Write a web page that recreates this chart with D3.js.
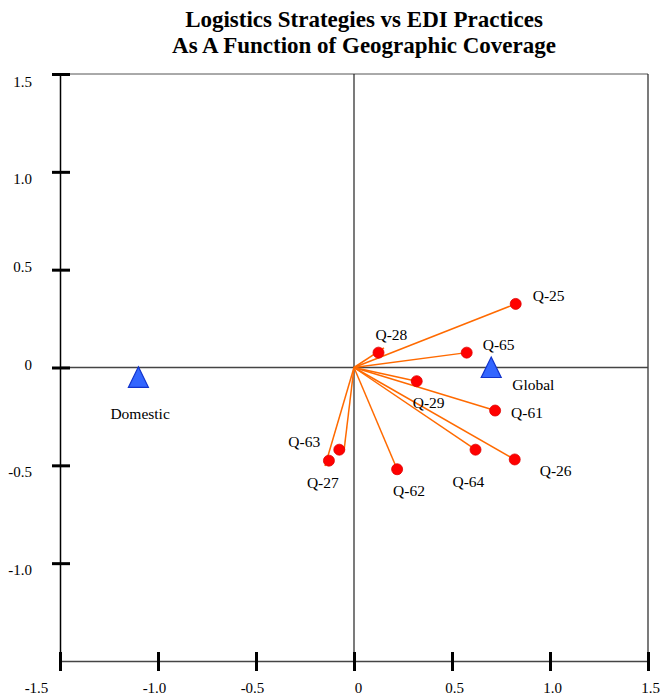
<!DOCTYPE html>
<html>
<head>
<meta charset="utf-8">
<script src="https://cdn.jsdelivr.net/npm/d3@7"></script>
<style>
  body { margin: 0; background: #fff; }
  svg { display: block; }
  text { font-family: "Liberation Serif", "Times New Roman", serif; }
</style>
</head>
<body>
<div id="chart"></div>
<script>
// Correspondence-analysis style map: practice vectors and group positions
const titleLines = ["Logistics Strategies vs EDI Practices", "As A Function of Geographic Coverage"];

const questionNames = ["Q-25", "Q-65", "Q-28", "Q-29", "Q-61", "Q-26", "Q-64", "Q-62", "Q-63", "Q-27"];
// point coordinates
const questionX = [0.825, 0.575, 0.125, 0.32, 0.72, 0.82, 0.62, 0.22, -0.075, -0.128];
const questionY = [0.325, 0.076, 0.076, -0.07, -0.22, -0.47, -0.42, -0.52, -0.42, -0.476];
// vector tips (drawn from the origin)
const vectorX = [0.825, 0.575, 0.153, 0.32, 0.72, 0.82, 0.62, 0.22, -0.051, -0.148];
const vectorY = [0.325, 0.076, 0.10, -0.07, -0.22, -0.47, -0.42, -0.52, -0.425, -0.503];

const groupNames = ["Global", "Domestic"];
const groupX = [0.70, -1.10];
const groupY = [0.0, -0.05];

const tickValues = [-1.5, -1.0, -0.5, 0, 0.5, 1.0, 1.5];
const tickLabels = ["-1.5", "-1.0", "-0.5", "0", "0.5", "1.0", "1.5"];

// label offsets (px) relative to each mark
const questionLabelDx = [17, 16, -3, -4, 16, 25, -23, -4, -51, -22];
const questionLabelDy = [-3, -3, -13, 27, 7, 17, 37, 27, -3, 27];
const groupLabelDx = [21, -28];
const groupLabelDy = [22, 42];
// baseline shift of the left-axis labels, for ticks 1.5 … -1.0
const yLabelShift = { "1.5": 12, "1.0": 12, "0.5": 2, "0": 2, "-0.5": 11, "-1.0": 11 };

const W = 663, H = 698;
const svg = d3.select("#chart").append("svg").attr("width", W).attr("height", H);

const x = d3.scaleLinear().domain([-1.5, 1.5]).range([60, 648]);
const y = d3.scaleLinear().domain([-1.5, 1.5]).range([661, 74]);

// title
titleLines.forEach((t, i) => {
  svg.append("text")
    .attr("x", 364).attr("y", 27 + i * 26)
    .attr("text-anchor", "middle")
    .attr("font-weight", "bold").attr("font-size", 23)
    .text(t);
});

// frame: top and right edges
svg.append("line").attr("x1", x(-1.5)).attr("x2", x(1.5)).attr("y1", y(1.5)).attr("y2", y(1.5))
  .attr("stroke", "#555").attr("stroke-width", 1);
svg.append("line").attr("x1", x(1.5)).attr("x2", x(1.5)).attr("y1", y(1.5)).attr("y2", y(-1.5))
  .attr("stroke", "#222").attr("stroke-width", 1.2);

// zero lines
svg.append("line").attr("x1", x(-1.5)).attr("x2", x(1.5)).attr("y1", y(0)).attr("y2", y(0))
  .attr("stroke", "#444").attr("stroke-width", 1.5);
svg.append("line").attr("x1", x(0)).attr("x2", x(0)).attr("y1", y(1.5)).attr("y2", y(-1.5))
  .attr("stroke", "#222").attr("stroke-width", 1.2);

// bottom axis
const xAxis = d3.axisBottom(x).tickValues(tickValues)
  .tickFormat((d, i) => tickLabels[i]).tickSizeInner(9).tickSizeOuter(0).tickPadding(12);
const gx = svg.append("g").attr("transform", `translate(0,${y(-1.5)})`).call(xAxis);
gx.select(".domain").attr("stroke", "#444").attr("stroke-width", 1.5);
gx.selectAll(".tick line").attr("y1", -9).attr("y2", 10).attr("stroke", "#000").attr("stroke-width", 3);
gx.selectAll(".tick text").attr("font-size", 15).attr("fill", "#000")
  .attr("font-family", "Liberation Serif, serif")
  .attr("dx", (d, i) => i === 0 ? -24 : (d === 0 ? 4 : (d < 0 ? -4 : 2)));

// left axis
const yAxis = d3.axisLeft(y).tickValues(tickValues.slice(1))
  .tickFormat(d => tickLabels[tickValues.indexOf(d)]).tickSizeInner(9).tickSizeOuter(0).tickPadding(19);
const gy = svg.append("g").attr("transform", `translate(${x(-1.5)},0)`).call(yAxis);
gy.select(".domain").attr("stroke", "#000").attr("stroke-width", 1.5);
gy.selectAll(".tick line").attr("x1", -8).attr("x2", 10).attr("stroke", "#000").attr("stroke-width", 3);
gy.selectAll(".tick text").attr("font-size", 15).attr("fill", "#000")
  .attr("font-family", "Liberation Serif, serif")
  .attr("dy", null)
  .attr("y", d => yLabelShift[tickLabels[tickValues.indexOf(d)]]);

// vectors from the origin
const questions = questionNames.map((n, i) => ({
  name: n, x: questionX[i], y: questionY[i], vx: vectorX[i], vy: vectorY[i],
  dx: questionLabelDx[i], dy: questionLabelDy[i]
}));
svg.append("g").selectAll("line").data(questions).join("line")
  .attr("x1", x(0)).attr("y1", y(0))
  .attr("x2", d => x(d.vx)).attr("y2", d => y(d.vy))
  .attr("stroke", "#ff6a00").attr("stroke-width", 1.5);

svg.append("g").selectAll("circle").data(questions).join("circle")
  .attr("cx", d => x(d.x)).attr("cy", d => y(d.y)).attr("r", 5.5)
  .attr("fill", "#ff0000").attr("stroke", "#e00000").attr("stroke-width", 0.8);

svg.append("g").selectAll("text").data(questions).join("text")
  .attr("x", d => x(d.x) + d.dx).attr("y", d => y(d.y) + d.dy)
  .attr("font-size", 15.5).attr("fill", "#000")
  .text(d => d.name);

// group positions: upward triangles centred on each point
const triPath = "M0,-10.5L10,10L-10,10Z";
const groups = groupNames.map((n, i) => ({ name: n, x: groupX[i], y: groupY[i], dx: groupLabelDx[i], dy: groupLabelDy[i] }));
svg.append("g").selectAll("path").data(groups).join("path")
  .attr("d", triPath)
  .attr("transform", d => `translate(${x(d.x)},${y(d.y)})`)
  .attr("fill", "#3366ff").attr("stroke", "#1133cc").attr("stroke-width", 1.2);

svg.append("g").selectAll("text").data(groups).join("text")
  .attr("x", d => x(d.x) + d.dx).attr("y", d => y(d.y) + d.dy)
  .attr("font-size", 15.5).attr("fill", "#000")
  .text(d => d.name);
</script>
</body>
</html>
